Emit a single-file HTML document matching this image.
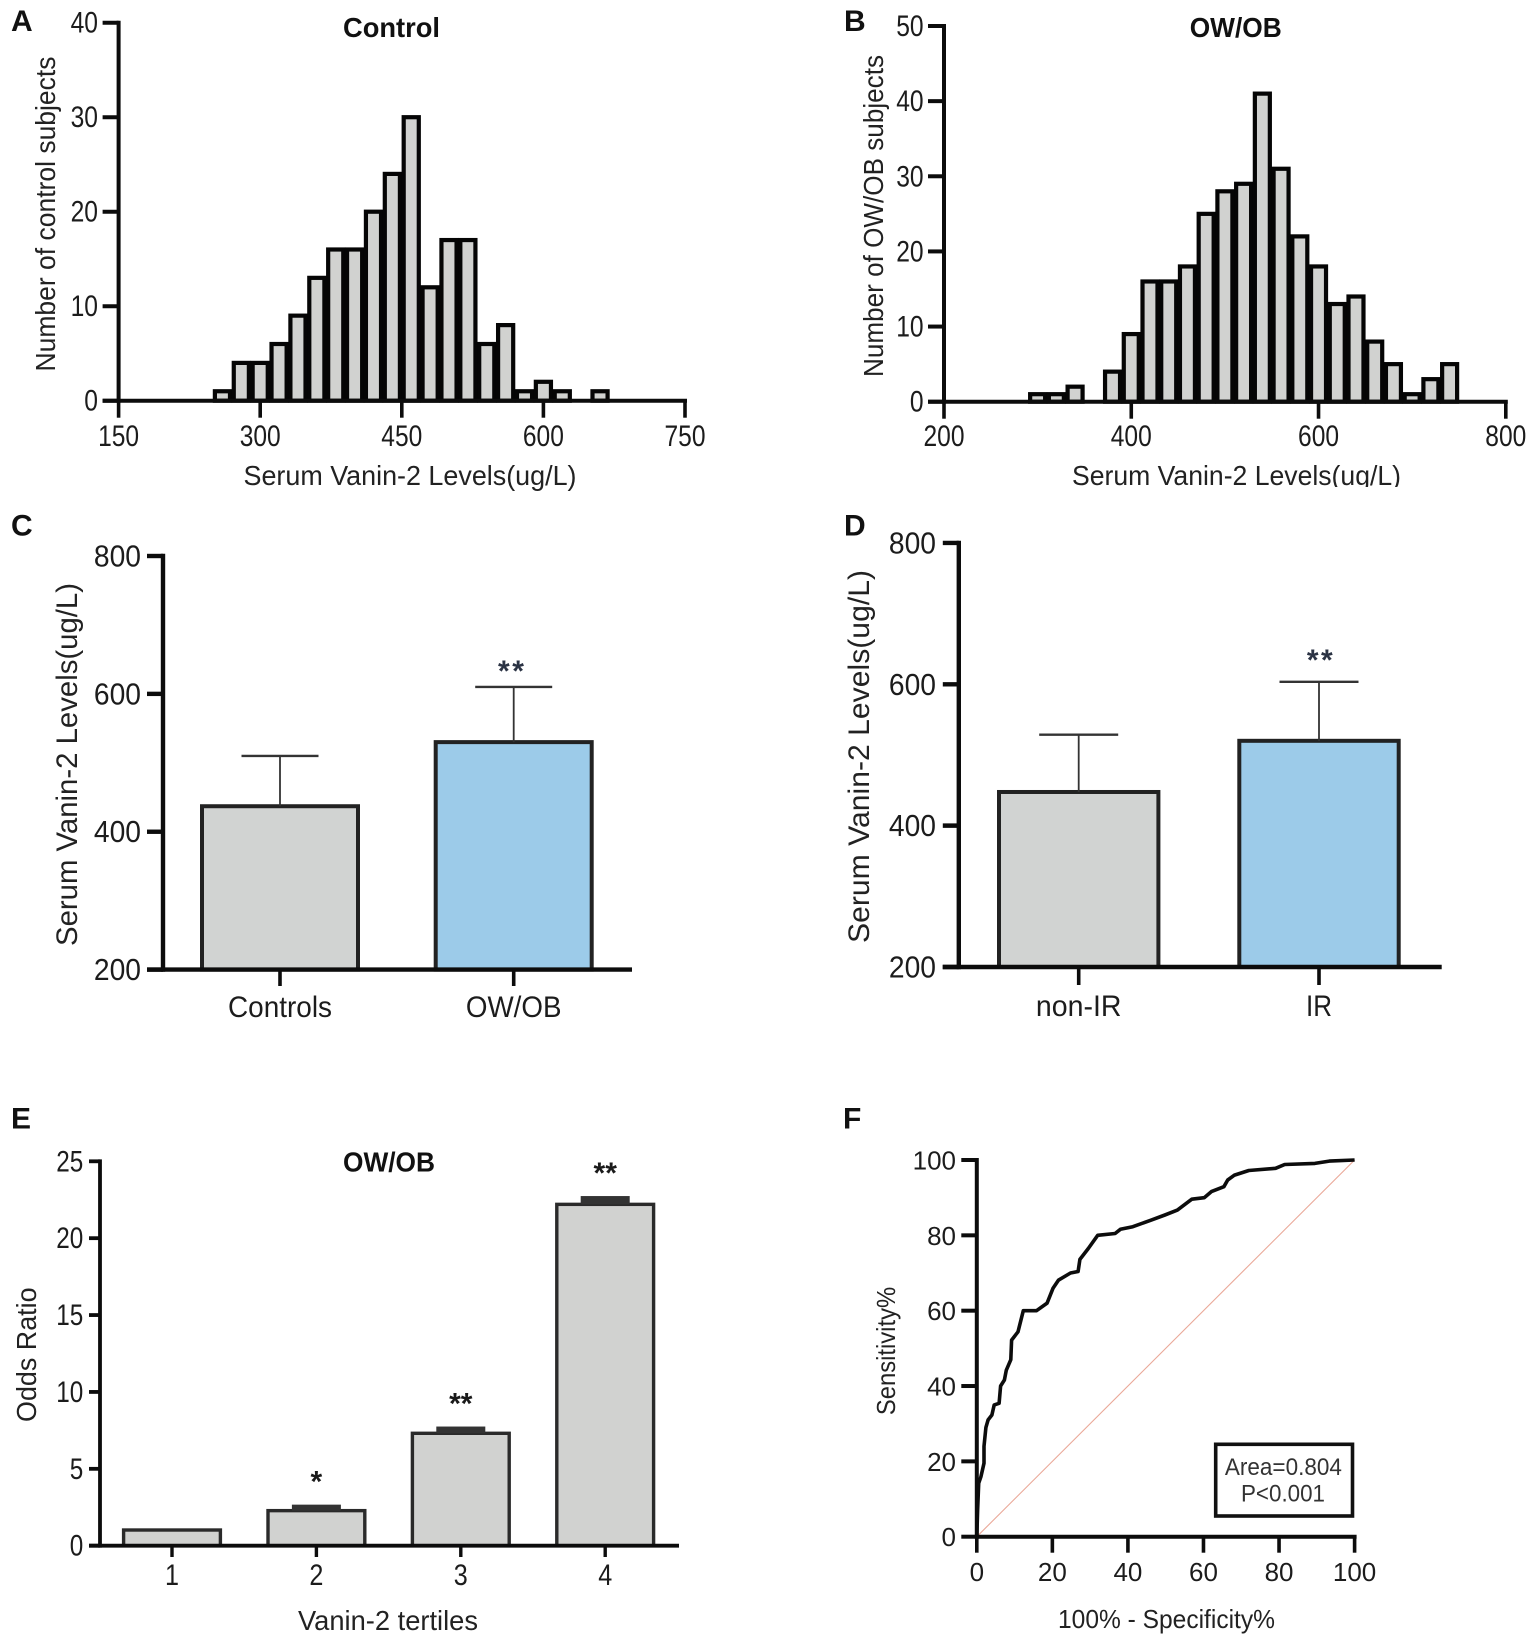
<!DOCTYPE html>
<html lang="en">
<head>
<meta charset="utf-8">
<title>Serum Vanin-2 figure panels</title>
<style>
html,body{margin:0;padding:0;background:#fff;}
#figure{display:block;width:1535px;height:1641px;filter:blur(0.35px);}
text{font-family:"Liberation Sans",Arial,sans-serif;fill:#1c1c1c;}
.panel-letter{font-size:30px;font-weight:700;fill:#111;}
.panel-title{font-size:28px;font-weight:700;fill:#111;}
.axis-title{font-size:28px;fill:#222;}
</style>
</head>
<body>
<svg id="figure" xmlns="http://www.w3.org/2000/svg" width="1535" height="1641" viewBox="0 0 1535 1641">
  <rect x="0" y="0" width="1535" height="1641" fill="#ffffff"/>
  <defs>
    <clipPath id="clip-b-title"><rect x="1060" y="450" width="360" height="37"/></clipPath>
  </defs>

  <g id="panel-a">
    <text class="panel-letter" x="11" y="31">A</text>
    <text class="panel-title" x="391.5" y="37" text-anchor="middle" textLength="97" lengthAdjust="spacingAndGlyphs">Control</text>
    <text class="axis-title" x="410" y="485" text-anchor="middle" textLength="333" lengthAdjust="spacingAndGlyphs">Serum Vanin-2 Levels(ug/L)</text>
    <text class="axis-title" x="55" y="214" text-anchor="middle" transform="rotate(-90 55 214)" textLength="315" lengthAdjust="spacingAndGlyphs">Number of control subjects</text>
  </g>

  <g id="panel-b">
    <text class="panel-letter" x="844" y="31">B</text>
    <text class="panel-title" x="1235.7" y="37" text-anchor="middle" textLength="92" lengthAdjust="spacingAndGlyphs">OW/OB</text>
    <text class="axis-title" x="1236.5" y="485" text-anchor="middle" textLength="329" lengthAdjust="spacingAndGlyphs" clip-path="url(#clip-b-title)">Serum Vanin-2 Levels(ug/L)</text>
    <text class="axis-title" x="883" y="216" text-anchor="middle" transform="rotate(-90 883 216)" textLength="322" lengthAdjust="spacingAndGlyphs">Number of OW/OB subjects</text>
  </g>

  <g id="panel-c">
    <text class="panel-letter" x="11" y="535.7">C</text>
    <text class="axis-title" x="77" y="764.5" text-anchor="middle" transform="rotate(-90 77 764.5)" textLength="363" lengthAdjust="spacingAndGlyphs" style="font-size:30px">Serum Vanin-2 Levels(ug/L)</text>
  </g>

  <g id="panel-d">
    <text class="panel-letter" x="844" y="535.7">D</text>
    <text class="axis-title" x="869" y="756.5" text-anchor="middle" transform="rotate(-90 869 756.5)" textLength="373" lengthAdjust="spacingAndGlyphs" style="font-size:30px">Serum Vanin-2 Levels(ug/L)</text>
  </g>

  <g id="panel-e">
    <text class="panel-letter" x="11" y="1128.6">E</text>
    <text class="panel-title" x="389" y="1171.5" text-anchor="middle" textLength="92" lengthAdjust="spacingAndGlyphs">OW/OB</text>
    <text class="axis-title" x="388" y="1630" text-anchor="middle" textLength="180" lengthAdjust="spacingAndGlyphs">Vanin-2 tertiles</text>
    <text class="axis-title" x="35.8" y="1354.7" text-anchor="middle" transform="rotate(-90 35.8 1354.7)" textLength="134.5" lengthAdjust="spacingAndGlyphs">Odds Ratio</text>
  </g>

  <g id="panel-f">
    <text class="panel-letter" x="843" y="1128.6">F</text>
    <text class="axis-title" x="1166.5" y="1628" text-anchor="middle" textLength="217" lengthAdjust="spacingAndGlyphs" style="font-size:26px">100% - Specificity%</text>
    <text class="axis-title" x="895" y="1351" text-anchor="middle" transform="rotate(-90 895 1351)" textLength="128.3" lengthAdjust="spacingAndGlyphs" style="font-size:26px">Sensitivity%</text>
    <g id="panel-f-plot"></g>
    <rect x="1215.7" y="1444.3" width="136.8" height="71.7" fill="#ffffff" stroke="#111111" stroke-width="3.6"/>
    <text x="1283.4" y="1475" text-anchor="middle" font-size="24" textLength="117" lengthAdjust="spacingAndGlyphs" style="fill:#333">Area=0.804</text>
    <text x="1283" y="1501.7" text-anchor="middle" font-size="24" textLength="84" lengthAdjust="spacingAndGlyphs" style="fill:#333">P&lt;0.001</text>
  </g>
</svg>

<script>
// Panel A: control histogram
const aBins = [260,280,300,320,340,360,380,400,420,440,460,480,500,520,540,560,580,600,620,640,660];
const aCounts = [1,4,4,6,9,13,16,16,20,24,30,12,17,17,6,8,1,2,1,0,1];
const aXTicks = [150,300,450,600,750];
const aYTicks = [0,10,20,30,40];

// Panel B: OW/OB histogram
const bBins = [300,320,340,360,380,400,420,440,460,480,500,520,540,560,580,600,620,640,660,680,700,720,740];
const bCounts = [1,1,2,0,4,9,16,16,18,25,28,29,41,31,22,18,13,14,8,5,1,3,5];
const bXTicks = [200,400,600,800];
const bYTicks = [0,10,20,30,40,50];

// Panel C: controls vs OW/OB
const cCategories = ['Controls','OW/OB'];
const cMeans = [437,530];
const cErrors = [73,80];
const cStars = ['','**'];
const cYTicks = [200,400,600,800];

// Panel D: non-IR vs IR
const dCategories = ['non-IR','IR'];
const dMeans = [447.6,520];
const dErrors = [81,83.5];
const dStars = ['','**'];
const dYTicks = [200,400,600,800];

// Panel E: odds ratio by tertile
const eCategories = ['1','2','3','4'];
const eOdds = [1.02,2.28,7.31,22.2];
const eErrors = [0,0.39,0.44,0.54];
const eStars = ['','*','**','**'];
const eYTicks = [0,5,10,15,20,25];

// Panel F: ROC curve
const fSpecificity = [0,0.2,0.5,1.1,1.9,1.9,2.4,3,4,4.6,5.9,6.3,7.3,7.8,9,9.2,10.9,12.3,15.8,18.6,20.2,21.6,24.8,26.8,27.3,29.5,32,36.6,38,41.3,46,49.8,53.1,56.9,60.2,62.1,65.4,66.4,68.2,72,79.1,81.5,89.5,93.3,100];
const fSensitivity = [0,7,14.2,16,19.5,24,29,31,32.3,35,35.4,40,41.6,44.2,47,52.2,54.4,60,60,62,66,68.1,70,70.4,73.6,76.5,80,80.5,81.6,82.3,84,85.4,86.7,89.6,90,91.6,92.9,94.7,96,97.2,97.8,98.8,99.1,99.7,100];
const fXTicks = [0,20,40,60,80,100];
const fYTicks = [0,20,40,60,80,100];
const fReferenceLine = [0,100];

const SVG_NS = 'http://www.w3.org/2000/svg';

function scale(d0, d1, r0, r1) {
  return function (v) { return r0 + (v - d0) * (r1 - r0) / (d1 - d0); };
}

function make(tag, attrs, parent) {
  const node = document.createElementNS(SVG_NS, tag);
  for (const key in attrs) node.setAttribute(key, attrs[key]);
  parent.appendChild(node);
  return node;
}

function drawYAxis(parent, prefix, ticks, y, o) {
  const axis = make('line', {x1:o.x, x2:o.x, y1:y(ticks[ticks.length-1]) - o.sw/2, y2:y(ticks[0]) + o.sw/2, stroke:'#0c0c0c', 'stroke-width':o.sw}, parent);
  
  
  ticks.forEach(function (t) {
    const tick = make('line', {x1:o.x - o.len, x2:o.x, y1:y(t), y2:y(t), stroke:'#0c0c0c', 'stroke-width':o.sw}, parent);
    
    
    const s = String(t);
    const label = make('text', {x:o.labelX, y:y(t) + o.dy, 'text-anchor':'end', 'font-size':o.size}, parent);
    if (o.digit) {
      label.setAttribute('textLength', s.length * o.digit);
      label.setAttribute('lengthAdjust', 'spacingAndGlyphs');
    }
    label.textContent = s;
    
    
  });
}

function drawXAxisLine(parent, prefix, x0, x1, yPos, sw) {
  const axis = make('line', {x1:x0, x2:x1, y1:yPos, y2:yPos, stroke:'#0c0c0c', 'stroke-width':sw}, parent);
  
  
}

function drawXTick(parent, prefix, px, text, o) {
  const tick = make('line', {x1:px, x2:px, y1:o.y0, y2:o.y1, stroke:'#0c0c0c', 'stroke-width':o.sw}, parent);
  
  
  const label = make('text', {x:px, y:o.labelY, 'text-anchor':'middle', 'font-size':o.size}, parent);
  if (o.width) {
    label.setAttribute('textLength', o.width);
    label.setAttribute('lengthAdjust', 'spacingAndGlyphs');
  }
  label.textContent = text;
  
  
}

function drawHistogram(prefix, bins, counts, xTicks, yTicks, o) {
  const parent = document.getElementById(prefix);
  const x = scale(xTicks[0], xTicks[xTicks.length-1], o.x0, o.x1);
  const y = scale(yTicks[0], yTicks[yTicks.length-1], o.y0, o.y1);
  bins.forEach(function (bin, i) {
    if (counts[i] <= 0) return;
    const left = x(bin - 8);
    const right = x(bin + 8);
    const bar = make('rect', {x:left, y:y(counts[i]), width:right-left, height:y(0)-y(counts[i]), fill:'#d1d2d0', stroke:'#050505', 'stroke-width':4.2}, parent);
    
    
  });
  drawXAxisLine(parent, prefix, x(xTicks[0]) - 16, x(xTicks[xTicks.length-1]) + 2, y(0), 4);
  drawYAxis(parent, prefix, yTicks, y, {x:o.x0, sw:4, len:16, labelX:o.labelX, dy:10, size:30, digit:13.7});
  xTicks.forEach(function (t) {
    drawXTick(parent, prefix, x(t), String(t), {y0:y(0), y1:y(0) + 17, sw:3.6, labelY:446, size:30, width:41});
  });
}

function drawBarPanel(prefix, categories, means, errors, stars, yTicks, o) {
  const parent = document.getElementById(prefix);
  const y = scale(yTicks[0], yTicks[yTicks.length-1], o.y0, o.y1);
  categories.forEach(function (name, i) {
    const cx = o.cx0 + i * o.step;
    const bar = make('rect', {x:cx - o.half, y:y(means[i]), width:o.half*2, height:y(yTicks[0])-y(means[i]), fill:o.fills[i], stroke:'#222', 'stroke-width':4}, parent);
    
    
    const stem = make('line', {x1:cx, x2:cx, y1:y(means[i] + errors[i]), y2:y(means[i]), stroke:'#333', 'stroke-width':1.8}, parent);
    
    
    const cap = make('line', {x1:cx - o.cap, x2:cx + o.cap, y1:y(means[i] + errors[i]), y2:y(means[i] + errors[i]), stroke:'#333', 'stroke-width':2.4}, parent);
    
    
    if (stars[i]) {
      const star = make('text', {x:cx + o.starDx, y:y(means[i] + errors[i]) - o.starUp, 'text-anchor':'middle', 'font-size':30, 'font-weight':700, 'letter-spacing':2.5, style:'fill:#2b3344'}, parent);
      star.textContent = stars[i];
      
      
    }
    drawXTick(parent, prefix, cx, name, {y0:y(yTicks[0]), y1:o.tickEnd, sw:3.6, labelY:o.labelY, size:30, width:o.widths[i]});
  });
  drawXAxisLine(parent, prefix, o.xAxis0, o.xAxis1, y(yTicks[0]), 4.4);
  drawYAxis(parent, prefix, yTicks, y, {x:o.x, sw:4.4, len:16, labelX:o.labelX, dy:10.5, size:31, digit:15.7});
}

function drawOddsPanel() {
  const prefix = 'panel-e';
  const parent = document.getElementById(prefix);
  const y = scale(eYTicks[0], eYTicks[eYTicks.length-1], 1545.7, 1161.3);
  const starLift = 20;
  eCategories.forEach(function (name, i) {
    const cx = 172 + i * 144.4;
    const bar = make('rect', {x:cx - 48.4, y:y(eOdds[i]), width:96.8, height:y(0)-y(eOdds[i]), fill:'#d1d2d0', stroke:'#2a2a2a', 'stroke-width':3.4}, parent);
    
    
    if (eErrors[i] > 0) {
      const band = make('rect', {x:cx - 24.5, y:y(eOdds[i] + eErrors[i]), width:49, height:y(eOdds[i]) - y(eOdds[i] + eErrors[i]), fill:'#333333'}, parent);
      
      
    }
    if (eStars[i]) {
      const star = make('text', {x:cx, y:y(eOdds[i] + eErrors[i]) + 7 - starLift, 'text-anchor':'middle', 'font-size':30, 'font-weight':700, style:'fill:#1a1a1a'}, parent);
      star.textContent = eStars[i];
      
      
    }
    drawXTick(parent, prefix, cx, name, {y0:y(0), y1:1557, sw:3.4, labelY:1585, size:30, width:14});
  });
  drawXAxisLine(parent, prefix, 89, 679, y(0), 3.8);
  drawYAxis(parent, prefix, eYTicks, y, {x:100, sw:3.8, len:11, labelX:83.3, dy:10, size:30, digit:13.5});
}

function drawRocPanel() {
  const prefix = 'panel-f';
  const parent = document.getElementById('panel-f-plot');
  const x = scale(0, 100, 976.8, 1354.6);
  const y = scale(0, 100, 1536.7, 1160);
  const diagonal = make('line', {x1:x(fReferenceLine[0]), y1:y(fReferenceLine[0]), x2:x(fReferenceLine[1]), y2:y(fReferenceLine[1]), stroke:'#eaa898', 'stroke-width':1.1}, parent);
  
  
  const pts = fSpecificity.map(function (v, i) { return x(v).toFixed(1) + ',' + y(fSensitivity[i]).toFixed(1); }).join(' ');
  const curve = make('polyline', {points:pts, fill:'none', stroke:'#0c0c0c', 'stroke-width':3.6, 'stroke-linejoin':'round'}, parent);
  
  
  drawXAxisLine(parent, prefix, x(0) - 2, x(100) + 2, y(0), 4);
  drawYAxis(parent, prefix, fYTicks, y, {x:x(0), sw:4, len:15.5, labelX:956, dy:9.5, size:26});
  fXTicks.forEach(function (t) {
    drawXTick(parent, prefix, x(t), String(t), {y0:y(0), y1:1552.7, sw:3.6, labelY:1581, size:26});
  });
}

drawHistogram('panel-a', aBins, aCounts, aXTicks, aYTicks, {x0:118.6, x1:685, y0:400.7, y1:22.7, labelX:98});
drawHistogram('panel-b', bBins, bCounts, bXTicks, bYTicks, {x0:944, x1:1505.8, y0:401.7, y1:26, labelX:923.6});
drawBarPanel('panel-c', cCategories, cMeans, cErrors, cStars, cYTicks, {y0:969.6, y1:556, x:163, cx0:280, step:233.7, half:78, cap:38.5, fills:['#d1d3d2','#9ccbe9'], tickEnd:986, labelY:1016.8, widths:[104,95.6], xAxis0:147, xAxis1:632, labelX:141, starDx:-1.5, starUp:6});
drawBarPanel('panel-d', dCategories, dMeans, dErrors, dStars, dYTicks, {y0:967, y1:542.9, x:958.8, cx0:1078.7, step:240.3, half:79.7, cap:39.5, fills:['#d1d3d2','#9ccbe9'], tickEnd:985, labelY:1016, widths:[85.6,26], xAxis0:942.7, xAxis1:1441.7, labelX:936, starDx:2, starUp:12});
drawOddsPanel();
drawRocPanel();
</script>
</body>
</html>
